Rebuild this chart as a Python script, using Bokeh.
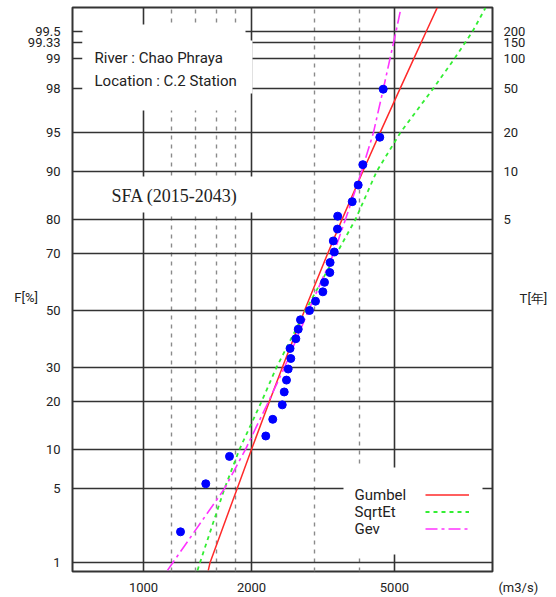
import math
from statistics import NormalDist
from bokeh.plotting import figure
from bokeh.models import (FixedTicker, LinearAxis, Label, BoxAnnotation, Legend,
                          LegendItem, Range1d)
from bokeh.embed import file_html
from bokeh.resources import INLINE

# ---------------- data ----------------
obs_q = [1268, 1491, 1736, 2191, 2291, 2435, 2466, 2502, 2530, 2572, 2560, 2657,
         2698, 2737, 2900, 3014, 3159, 3193, 3304, 3310, 3399, 3378, 3470, 3475,
         3814, 3963, 4083, 4552, 4653]
obs_f = [2.05, 5.48, 8.90, 12.33, 15.75, 19.18, 22.60, 26.03, 29.45, 32.88, 36.30,
         39.73, 43.15, 46.58, 50.00, 53.42, 56.85, 60.27, 63.70, 67.12, 70.55,
         73.97, 77.40, 80.82, 84.25, 87.67, 91.10, 94.52, 97.95]

curve_f = [0.82, 1, 5, 10, 20, 30, 50, 70, 80, 90, 95, 98, 99, 99.5, 99.74]
gumbel_q = [1515, 1533, 1823, 2000, 2241, 2437, 2809, 3257, 3573, 4079, 4564, 5192, 5662, 6131, 6576]
sqrtet_q = [1414, 1437, 1681, 1851, 2132, 2347, 2828, 3448, 3896, 4457, 5200, 6425, 7349, 8250, 8966]
gev_q = [1166, 1208, 1681, 1924, 2229, 2471, 2881, 3383, 3653, 4049, 4372, 4662, 4860, 5051, 5215]

f_ticks = [1, 5, 10, 20, 30, 50, 70, 80, 90, 95, 98, 99, 99.33, 99.5]
f_labels = ["1", "5", "10", "20", "30", "50", "70", "80", "90", "95", "98", "99", "99.33", "99.5"]
t_ticks_f = [80, 90, 95, 98, 99, 99.33, 99.5]
t_labels = ["5", "10", "20", "50", "100", "150", "200"]
q_major = [1000, 2000, 5000]
q_minor = [1200, 1400, 1600, 1800, 3000, 4000]
q_labels = ["1000", "2000", "5000"]

# ---------------- probability-paper transform ----------------
nd = NormalDist()
def z_of(f):
    return round(nd.inv_cdf(f / 100.0), 6)

obs_z = [z_of(f) for f in obs_f]
curve_z = [z_of(f) for f in curve_f]

X0, X1 = 634.2, 9379.0
Y0, Y1 = -2.410, 2.798
FL, FR, FT, FB = 72, 492, 7, 571

def qx(px):
    a, b = math.log10(X0), math.log10(X1)
    return 10 ** (a + (px - FL) / (FR - FL) * (b - a))

def zy(py):
    return round(Y1 - (py - FT) / (FB - FT) * (Y1 - Y0), 6)

FONT = "Roboto"
TXT = "#222222"
NB = "\u00a0"

p = figure(width=556, height=597, x_axis_type="log",
           x_range=Range1d(X0, X1), y_range=Range1d(Y0, Y1),
           output_backend="svg", toolbar_location=None,
           min_border_left=FL, min_border_right=556 - FR,
           min_border_top=FT, min_border_bottom=597 - FB)
p.background_fill_color = "white"
p.border_fill_color = "white"
p.outline_line_color = "#333333"
p.outline_line_width = 2

def style_axis(ax, standoff):
    ax.axis_line_color = None
    ax.major_tick_line_color = None
    ax.minor_tick_line_color = None
    ax.major_tick_out = 0
    ax.major_tick_in = 0
    ax.minor_tick_out = 0
    ax.minor_tick_in = 0
    ax.major_label_standoff = standoff
    ax.major_label_text_font = FONT
    ax.major_label_text_font_size = "13px"
    ax.major_label_text_color = TXT

# x axis (grid ticker separate from the axis ticker that also carries the unit text)
xt = FixedTicker(ticks=q_major, minor_ticks=q_minor)
unit_tick = 9378.9
xa = p.xaxis[0]
xa.ticker = FixedTicker(ticks=q_major + [unit_tick], minor_ticks=[])
ovr = {q: l for q, l in zip(q_major, q_labels)}
ovr[unit_tick] = NB * 16 + "(m3/s)"
xa.major_label_overrides = ovr
style_axis(xa, 8)

# left y axis (F %), with its name as an extra label
z_ticks = [z_of(f) for f in f_ticks]
f_name_z = zy(297)
ya = p.yaxis[0]
ya.ticker = FixedTicker(ticks=z_ticks + [f_name_z], minor_ticks=[])
lovr = {z: l for z, l in zip(z_ticks, f_labels)}
lovr[f_name_z] = "F[%]" + NB * 7
ya.major_label_overrides = lovr
style_axis(ya, 12)

# right y axis (T years), with its name as an extra label
tz = [z_of(f) for f in t_ticks_f]
t_name_z = zy(298)
ra = LinearAxis(ticker=FixedTicker(ticks=tz + [t_name_z], minor_ticks=[]))
rovr = {z: l for z, l in zip(tz, t_labels)}
rovr[t_name_z] = NB * 5 + "T[年]"
ra.major_label_overrides = rovr
style_axis(ra, 11)
p.add_layout(ra, "right")

# grids
p.xgrid.ticker = xt
p.xgrid.grid_line_color = "#333333"
p.xgrid.grid_line_width = 1.6
p.xgrid.minor_grid_line_color = "#8a8a8a"
p.xgrid.minor_grid_line_width = 1.4
p.xgrid.minor_grid_line_dash = "4 5"
p.ygrid.ticker = FixedTicker(ticks=z_ticks, minor_ticks=[])
p.ygrid.grid_line_color = "#333333"
p.ygrid.grid_line_width = 1.6

# fitted curves
r_gum = p.line(gumbel_q, curve_z, line_color="#ff2a2a", line_width=1.5)
r_sqr = p.line(sqrtet_q, curve_z, line_color="#33ee33", line_width=1.8, line_dash="4 4")
r_gev = p.line(gev_q, curve_z, line_color="#ff33ff", line_width=1.6, line_dash="12 4 3 4")

# observed points
p.scatter(obs_q, obs_z, size=8, marker="circle", color="#0000ff")

# white boxes that interrupt the grid behind texts
for l, r, t, b in [(82, 245, 24, 110), (82, 252, 40, 93), (100, 254, 176, 212), (343, 482, 467, 554)]:
    p.add_layout(BoxAnnotation(left=qx(l), right=qx(r), top=zy(t), bottom=zy(b),
                               fill_color="white", fill_alpha=1.0, line_color=None))

# texts inside the frame
p.add_layout(Label(x=qx(94), y=zy(48), text="River :  Chao Phraya\nLocation : C.2 Station",
                   text_font=FONT, text_font_size="15px", text_color=TXT,
                   text_baseline="top", text_align="left", text_line_height=1.3))
p.add_layout(Label(x=qx(111), y=zy(195), text="SFA (2015-2043)",
                   text_font="Liberation Serif", text_font_size="18px",
                   text_color=TXT, text_baseline="middle", text_align="left"))

for name, py in [("Gumbel", 494.5), ("SqrtEt", 511.5), ("Gev", 528.5)]:
    p.add_layout(Label(x=qx(354), y=zy(py), text=name, text_font=FONT,
                       text_font_size="15px", text_color=TXT,
                       text_baseline="middle", text_align="left"))

legend = Legend(items=[LegendItem(label=" ", renderers=[r_gum]),
                       LegendItem(label=" ", renderers=[r_sqr]),
                       LegendItem(label=" ", renderers=[r_gev])],
                location=(425 - FL, 34), orientation="vertical",
                glyph_width=44, glyph_height=17, label_height=17, label_width=0,
                label_standoff=0, spacing=0, padding=0, margin=0,
                border_line_color=None, background_fill_alpha=0.0)
p.add_layout(legend)

open("out.html", "w").write(file_html(p, INLINE))
